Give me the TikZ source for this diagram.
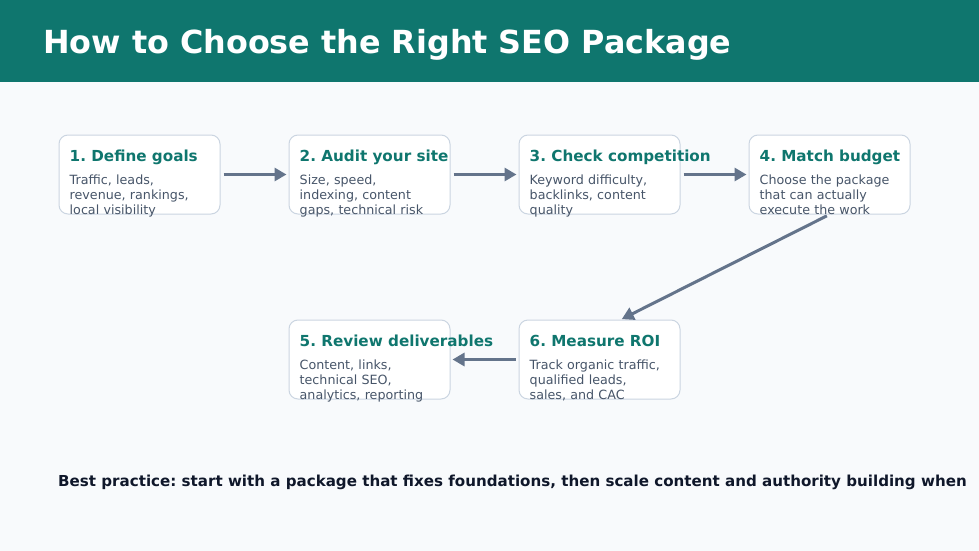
\documentclass[tikz,border=0pt]{standalone}
\usepackage{fontspec}
\setmainfont{DejaVu Sans}
\usetikzlibrary{arrows.meta,positioning}
\definecolor{seoteal}{HTML}{0F766E}
\definecolor{pagebg}{HTML}{F8FAFC}
\definecolor{boxline}{HTML}{CBD5E1}
\definecolor{notegray}{HTML}{475569}
\definecolor{arrowgray}{HTML}{64748B}
\definecolor{inkblue}{HTML}{0F172A}
\frenchspacing
\tikzset{
    %Define standard arrow tip
    >={Triangle[length=12pt,width=13pt]},
    %Define style for boxes
    stepbox/.style={
           rectangle,
           rounded corners=9pt,
           draw=boxline, line width=1pt,
           fill=white,
           minimum width=161pt,
           minimum height=79pt,
           inner sep=0pt},
    steptitle/.style={
           anchor=base west,
           inner sep=0pt,
           font=\bfseries\fontsize{15.2}{18}\selectfont,
           text=seoteal},
    stepnote/.style={
           anchor=base west,
           inner sep=0pt,
           text width=200pt,
           align=left,
           font=\fontsize{12.7}{15}\selectfont,
           text=notegray},
    % Define arrow style
    link/.style={
           ->,
           line width=3pt,
           draw=arrowgray,
           shorten <=3pt,
           shorten >=2pt,}
}
\begin{document}
\begin{tikzpicture}[x=1pt,y=-1pt,node distance=68pt]
\fill[pagebg] (0,0) rectangle (979,551);
\useasboundingbox (0,0) rectangle (979,551);
\fill[seoteal] (0,0) rectangle (979,82);
\node[anchor=base west, inner sep=0pt, text=white, font=\bfseries\fontsize{31.8}{38}\selectfont] (title) at (43,53) {How to Choose the Right SEO Package};
% steps
\node[stepbox](b1) at (139.5,174.5) {};
\node[stepbox, right=of b1](b2) {};
\node[stepbox, right=of b2](b3) {};
\node[stepbox, right=of b3](b4) {};
\node[stepbox, below=105pt of b3](b6) {};
\node[stepbox, left=of b6](b5) {};
\node[steptitle](t1) at ([shift={(11,27)}]b1.north west) {1. Define goals};
\node[stepnote](n1) at ([shift={(11,50)}]b1.north west) {Traffic, leads,\\revenue, rankings,\\local visibility};
\node[steptitle](t2) at ([shift={(11,27)}]b2.north west) {2. Audit your site};
\node[stepnote](n2) at ([shift={(11,50)}]b2.north west) {Size, speed,\\indexing, content\\gaps, technical risk};
\node[steptitle](t3) at ([shift={(11,27)}]b3.north west) {3. Check competition};
\node[stepnote](n3) at ([shift={(11,50)}]b3.north west) {Keyword difficulty,\\backlinks, content\\quality};
\node[steptitle](t4) at ([shift={(11,27)}]b4.north west) {4. Match budget};
\node[stepnote](n4) at ([shift={(11,50)}]b4.north west) {Choose the package\\that can actually\\execute the work};
\node[steptitle](t5) at ([shift={(11,27)}]b5.north west) {5. Review deliverables};
\node[stepnote](n5) at ([shift={(11,50)}]b5.north west) {Content, links,\\technical SEO,\\analytics, reporting};
\node[steptitle](t6) at ([shift={(11,27)}]b6.north west) {6. Measure ROI};
\node[stepnote](n6) at ([shift={(11,50)}]b6.north west) {Track organic traffic,\\qualified leads,\\sales, and CAC};
\coordinate (in6) at (620,320);
\path
	(b1) edge[link] (b2)
	(b2) edge[link] (b3)
	(b3) edge[link] (b4)
	(b4.south) edge[link] (in6)
	(b6) edge[link] (b5);
\node[anchor=base west, inner sep=0pt, text=inkblue, font=\bfseries\fontsize{15.1}{18}\selectfont] (tip) at (58,486) {Best practice: start with a package that fixes foundations, then scale content and authority building when};
\end{tikzpicture}
\end{document}
